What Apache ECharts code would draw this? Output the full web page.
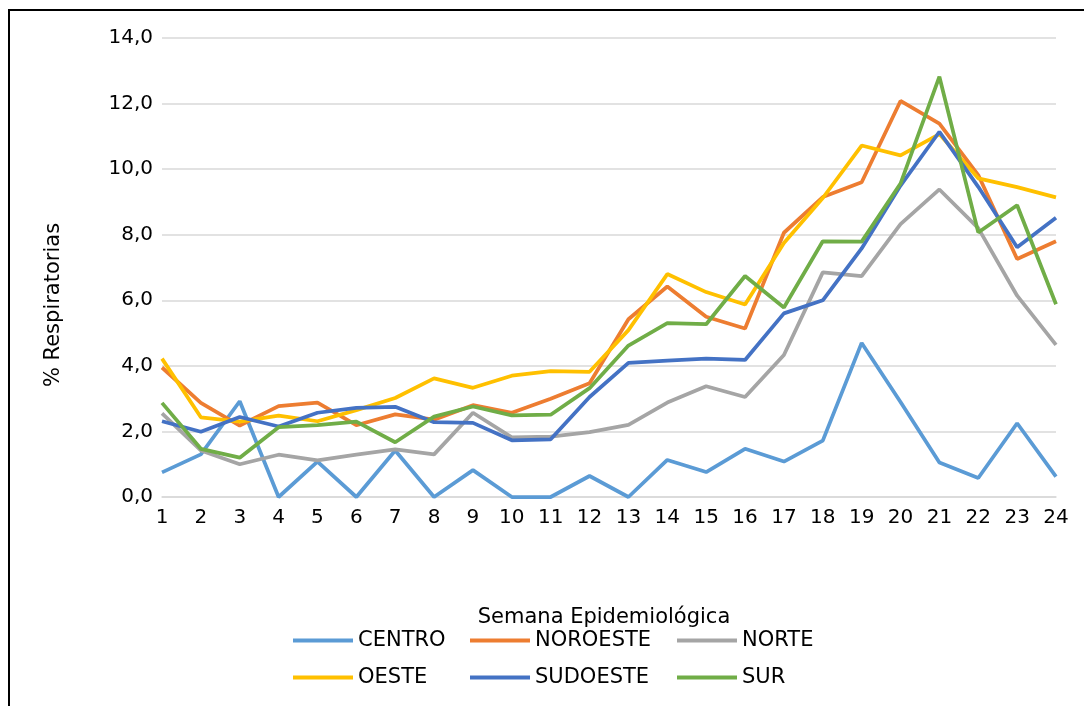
<!DOCTYPE html>
<html>
<head>
<meta charset="utf-8">
<script src="https://cdn.jsdelivr.net/npm/echarts@6/dist/echarts.min.js"></script>
<style>
  html, body { margin: 0; padding: 0; background: #fff; }
  #chart { width: 1084px; height: 706px; }
</style>
</head>
<body>
<div id="chart"></div>
<script>
// semanas epidemiologicas
var semanas = ['1','2','3','4','5','6','7','8','9','10','11','12','13','14','15','16','17','18','19','20','21','22','23','24'];

var centro    = [0.75, 1.30, 2.92, 0.00, 1.08, 0.00, 1.42, 0.00, 0.82, 0.00, 0.00, 0.64, 0.00, 1.13, 0.76, 1.47, 1.08, 1.72, 4.70, 2.90, 1.05, 0.58, 2.25, 0.62];
var noroeste  = [3.95, 2.87, 2.18, 2.77, 2.88, 2.19, 2.52, 2.36, 2.80, 2.57, 3.00, 3.47, 5.42, 6.42, 5.50, 5.14, 8.06, 9.15, 9.60, 12.08, 11.39, 9.82, 7.26, 7.80];
var norte     = [2.55, 1.42, 1.00, 1.29, 1.12, 1.29, 1.45, 1.30, 2.57, 1.82, 1.84, 1.98, 2.20, 2.88, 3.38, 3.05, 4.33, 6.85, 6.74, 8.32, 9.38, 8.20, 6.14, 4.64];
var oeste     = [4.22, 2.43, 2.30, 2.48, 2.31, 2.65, 3.02, 3.62, 3.33, 3.70, 3.84, 3.82, 5.09, 6.80, 6.25, 5.87, 7.75, 9.12, 10.72, 10.42, 11.07, 9.72, 9.45, 9.14];
var sudoeste  = [2.31, 1.99, 2.44, 2.15, 2.57, 2.72, 2.75, 2.28, 2.26, 1.73, 1.76, 3.05, 4.09, 4.16, 4.22, 4.18, 5.60, 6.00, 7.58, 9.50, 11.14, 9.46, 7.62, 8.52];
var sur       = [2.87, 1.47, 1.20, 2.13, 2.19, 2.30, 1.67, 2.45, 2.76, 2.49, 2.51, 3.32, 4.62, 5.30, 5.27, 6.74, 5.78, 7.80, 7.79, 9.56, 12.82, 8.07, 8.90, 5.88];

var yTicks = [0, 2, 4, 6, 8, 10, 12, 14];

var colores = {
  CENTRO: '#5B9BD5', NOROESTE: '#ED7D31', NORTE: '#A5A5A5',
  OESTE: '#FFC000', SUDOESTE: '#4472C4', SUR: '#70AD47'
};

var fuente = 'DejaVu Sans';

function serie(nombre, datos){
  return {
    name: nombre,
    type: 'line',
    data: datos,
    symbol: 'none',
    color: colores[nombre],
    lineStyle: { width: 3.75, color: colores[nombre] }
  };
}

function leyenda(x, items){
  return {
    orient: 'vertical',
    left: x,
    top: 625,
    itemWidth: 60,
    itemHeight: 4,
    itemGap: 16,
    icon: 'rect',
    data: items,
    textStyle: { fontFamily: fuente, fontSize: 21, color: '#000', lineHeight: 21 }
  };
}

var myChart = echarts.init(document.getElementById('chart'));
var option = {
  animation: false,
  backgroundColor: '#fff',
  graphic: [{
    type: 'rect',
    shape: { x: 9, y: 10, width: 1300, height: 900 },
    style: { fill: 'none', stroke: '#000', lineWidth: 2 }
  }, {
    // titulo del eje Y
    type: 'text',
    x: 54,
    y: 305,
    rotation: Math.PI / 2,
    style: {
      text: '% Respiratorias',
      fontFamily: fuente,
      fontSize: 21,
      fill: '#000',
      align: 'center',
      verticalAlign: 'middle'
    }
  }],
  grid: { left: 162, right: 28, top: 38, bottom: 209 },
  legend: [
    leyenda(288, ['CENTRO', 'OESTE']),
    leyenda(465, ['NOROESTE', 'SUDOESTE']),
    leyenda(672, ['NORTE', 'SUR'])
  ],
  xAxis: {
    type: 'category',
    data: semanas,
    boundaryGap: false,
    name: 'Semana Epidemiológica',
    nameLocation: 'middle',
    nameGap: 110,
    nameTextStyle: { fontFamily: fuente, fontSize: 21, color: '#000', padding: [0, 10, 0, 0] },
    axisLine: { lineStyle: { color: '#D9D9D9', width: 1.5 } },
    axisTick: { show: false },
    axisLabel: { fontFamily: fuente, fontSize: 20, color: '#000', margin: 11 }
  },
  yAxis: {
    type: 'value',
    min: yTicks[0],
    max: yTicks[yTicks.length - 1],
    interval: 2,
    axisLine: { show: false },
    axisTick: { show: false },
    splitLine: { lineStyle: { color: '#D9D9D9', width: 1.5 } },
    axisLabel: {
      fontFamily: fuente, fontSize: 20, color: '#000', margin: 9,
      formatter: function(v){ return v.toFixed(1).replace('.', ','); }
    }
  },
  series: [
    serie('CENTRO', centro),
    serie('NOROESTE', noroeste),
    serie('NORTE', norte),
    serie('OESTE', oeste),
    serie('SUDOESTE', sudoeste),
    serie('SUR', sur)
  ]
};
myChart.setOption(option);
</script>
</body>
</html>
